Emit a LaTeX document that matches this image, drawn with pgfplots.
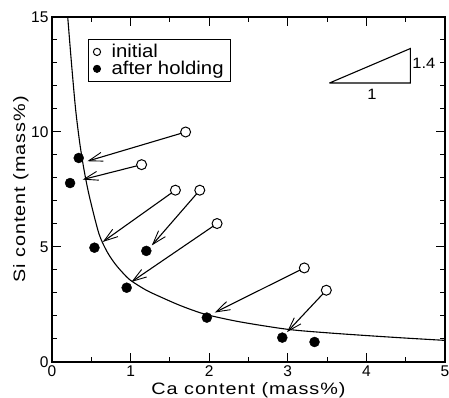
\documentclass[border=0pt]{standalone}
\usepackage{fontspec}
\setmainfont{Liberation Sans}
\newfontfamily\wide[FakeStretch=1.1]{Liberation Sans}
\newfontfamily\widel[FakeStretch=1.2,LetterSpace=6]{Liberation Sans}
\usepackage{pgfplots}
\pgfplotsset{compat=1.18}
\usetikzlibrary{arrows.meta}
\begin{document}
\begin{tikzpicture}
\useasboundingbox (-52pt,-36pt) rectangle (397pt,362pt);
\begin{axis}[
  scale only axis, width=393pt, height=345pt,
  xmin=0, xmax=5, ymin=0, ymax=15,
  xtick={0,1,2,3,4,5}, ytick={0,5,10,15},
  minor xtick={0.5,1.5,2.5,3.5,4.5},
  minor ytick={1,2,3,4,6,7,8,9,11,12,13,14},
  tick align=inside, major tick length=9pt, minor tick length=5pt,
  axis line style={line width=1.3pt},
  every tick/.style={line width=1pt, black},
  /pgf/number format/assume math mode=true,
  ticklabel style={font=\fontsize{15.5}{15.5}\selectfont},
  xlabel={Ca content (mass\%)}, ylabel={Si content (mass\%)},
  xlabel style={font=\widel\fontsize{16.5}{16.5}\selectfont, at={(axis description cs:0.5,-0.081)}, anchor=center},
  ylabel style={font=\widel\fontsize{16.5}{16.5}\selectfont, at={(axis description cs:-0.079,0.5)}, anchor=center, rotate=0},
  legend style={at={(rel axis cs:0.0916,0.936)}, anchor=north west, draw=black, line width=0.8pt,
    font=\wide\fontsize{18.5}{19}\selectfont, inner xsep=5pt, inner ysep=3pt, row sep=-2pt,
    /tikz/every odd column/.append style={column sep=9pt}},
  legend image post style={mark size=3.6pt},
  legend cell align=left,
  clip=false,
]
% curve
\addplot[black, line width=1.1pt, smooth, tension=0.5, forget plot] coordinates {
(0.20,15.0) (0.25,12.9) (0.30,11.0) (0.35,9.6) (0.40,8.5) (0.45,7.6) (0.50,6.85)
(0.60,5.55) (0.70,4.8) (0.80,4.28) (0.90,3.88) (1.0,3.55) (1.2,3.12) (1.4,2.8)
(1.6,2.5) (1.8,2.24) (2.0,2.03) (2.4,1.74) (3.0,1.42) (3.5,1.27) (4.0,1.15) (4.5,1.04) (5.0,0.94)};
% arrows
\pgfplotsset{arr/.style={black, line width=1.1pt, -{Straight Barb[length=14pt,width=9pt,line width=0.9pt]}, forget plot}}
\addplot[arr] coordinates {(1.70,10.0) (0.45,8.73)};
\addplot[arr] coordinates {(1.14,8.58) (0.39,7.93)};
\addplot[arr] coordinates {(1.57,7.47) (0.645,5.22)};
\addplot[arr] coordinates {(1.88,7.47) (1.27,5.07)};
\addplot[arr] coordinates {(2.10,6.02) (1.01,3.48)};
\addplot[arr] coordinates {(3.21,4.09) (2.07,2.15)};
\addplot[arr] coordinates {(3.49,3.12) (2.99,1.30)};
% slope triangle
\addplot[black, line width=1.1pt, forget plot] coordinates {(3.53,12.13) (4.56,12.13) (4.56,13.63) (3.53,12.13)};
\node[font=\wide\fontsize{15}{15}\selectfont] at (axis cs:4.07,11.62) {1};
\node[font=\wide\fontsize{15}{15}\selectfont, anchor=west, inner sep=1pt] at (axis cs:4.57,13.0) {1.4};
% data
\addplot[only marks, mark=*, mark size=5pt, mark options={fill=white, draw=black, line width=1pt}] coordinates {
(1.70,10.0) (1.14,8.58) (1.57,7.47) (1.88,7.47) (2.10,6.02) (3.21,4.09) (3.49,3.12)};
\addlegendentry{initial}
\addplot[only marks, mark=*, mark size=5pt, mark options={fill=black, draw=black}] coordinates {
(0.34,8.87) (0.23,7.78) (0.54,4.97) (1.20,4.83) (0.95,3.23) (1.97,1.93) (2.93,1.06) (3.34,0.87)};
\addlegendentry{after holding}
\end{axis}
\end{tikzpicture}
\end{document}
